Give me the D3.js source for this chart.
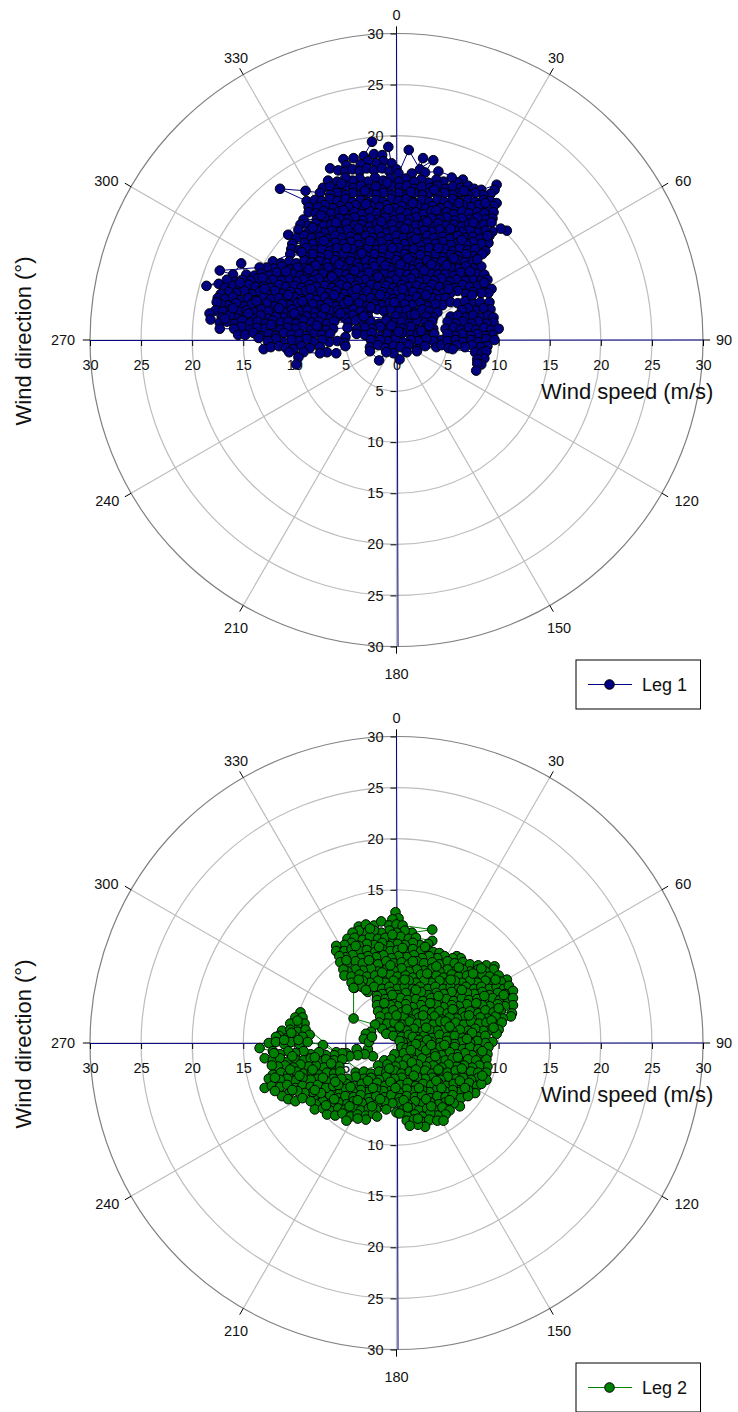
<!DOCTYPE html>
<html>
<head>
	<title>Wind speed and direction by leg</title>
	<script src="https://cdnjs.cloudflare.com/ajax/libs/d3/7.8.5/d3.min.js"></script>
	<style type="text/css">
		body { margin:0; background:#fff; }
		svg { display:block; font-family:"Liberation Sans",Arial,sans-serif; }
		.tick line, .mark { stroke:black; }
		.tick text, .angle { font-size:14.5px; fill:#111; }
		.title { font-size:22px; fill:#111; }
		.legtext { font-size:18px; fill:#111; }
	</style>
</head>
<body>
<script type="text/javascript">
// polar axes
var speedTicks = [-30,-25,-20,-15,-10,-5,0,5,10,15,20,25,30];
var ringValues = [5,10,15,20,25];
var angleValues = [0,30,60,90,120,150,180,210,240,270,300,330];

// the long straight lines through both plots, east/north in m/s
var spokeNS = [[0,30],[0.15,-30]];
var spokeEW = [[-30,-0.05],[30,0]];

// values, as east/north components of the wind speed (m/s)
var leg1Main = [
[-2.4,19.4],[-3.2,18],[-2.2,18.2],[-1.4,18.1],[-0.8,18.9],
[-0.5,17.3],[-1.3,17.5],[-2,17.3],[-2.8,17.5],[-3.5,17.2],[-4.2,17.8],[-5.2,17.7],[-4.9,17.1],
[-6.5,16.8],[-5.7,16.6],[-5,16.5],[-4.3,16.7],[-3.6,16.5],[-2.9,16.8],[-2.2,16.6],[-1.4,16.8],[-0.7,16.5],[0,16.7],[0.2,16.3],[1.2,18.6],[2.3,16.7],[2.6,17.8],[1.5,16.3],[3.6,17.6],[2.8,16.4],[4.1,16.5],
[6.5,15.7],[6,15.4],[5.4,15.9],[4.6,15.5],[3.9,15.7],[3.1,15.4],[2.4,15.7],[1.7,15.5],[0.9,15.8],[0.2,15.5],[-0.6,15.8],[-1.3,15.6],[-2.1,15.9],[-2.8,15.5],[-3.6,15.8],[-4.3,15.6],[-5,15.9],[-5.8,15.5],[-6.7,15.6],
[-7.2,14.9],[-6.5,15],[-5.7,14.8],[-5,15.1],[-4.2,14.9],[-3.5,15.1],[-2.7,14.8],[-2,15],[-1.2,14.8],[-0.5,15.1],[0.3,14.9],[1,15.1],[1.8,14.8],[2.5,15],[3.3,14.9],[4,15.1],[4.8,14.8],[5.5,15],[6.3,14.9],[7,15.1],[7.6,14.8],[8.3,14.7],[9.8,15.2],[9.6,14.7],
[9.2,14.3],[8.5,14.2],[7.7,14.4],[7,14.2],[6.2,14.4],[5.5,14.2],[4.7,14.4],[4,14.2],[3.2,14.4],[2.5,14.2],[1.7,14.4],[1,14.2],[0.2,14.4],[-0.5,14.2],[-1.3,14.4],[-2,14.2],[-2.8,14.4],[-3.5,14.2],[-4.3,14.4],[-5,14.2],[-5.8,14.4],[-6.5,14.2],[-7.5,14.4],[-8.9,14.6],[-11.4,14.8],
[-8.8,13.6],[-8,13.7],[-7.3,13.6],[-6.5,13.8],[-5.8,13.6],[-5,13.8],[-4.3,13.5],[-3.5,13.7],[-2.8,13.5],[-2,13.7],[-1.3,13.5],[-0.5,13.8],[0.2,13.6],[1,13.8],[1.7,13.5],[2.5,13.7],[3.2,13.5],[4,13.7],[4.7,13.5],[5.5,13.8],[6.2,13.6],[7,13.7],[7.7,13.5],[8.5,13.7],[9.2,13.6],[9.8,13.4],
[9.5,13.1],[8.8,13],[8,13.2],[7.3,13],[6.5,13.2],[5.8,13],[5,13.1],[4.3,12.9],[3.5,13.1],[2.8,12.9],[2,13.2],[1.3,13],[0.5,13.1],[-0.2,12.9],[-1,13.2],[-1.7,13],[-2.5,13.1],[-3.2,12.9],[-4,13.2],[-4.7,13],[-5.5,13.1],[-6.2,12.9],[-7,13.2],[-7.7,13],[-8.6,13],
[-8.6,12.5],[-7.9,12.4],[-7.1,12.6],[-6.4,12.4],[-5.6,12.6],[-4.9,12.3],[-4.1,12.5],[-3.4,12.3],[-2.6,12.6],[-1.9,12.4],[-1.1,12.5],[-0.4,12.3],[0.4,12.6],[1.1,12.4],[1.9,12.5],[2.6,12.3],[3.4,12.6],[4.1,12.4],[4.9,12.5],[5.6,12.3],[6.4,12.6],[7.1,12.4],[7.9,12.5],[8.6,12.4],[9.5,12.5],
[9.4,11.9],[8.7,11.8],[7.9,12],[7.2,11.8],[6.4,11.9],[5.7,11.7],[4.9,12],[4.2,11.8],[3.4,11.9],[2.7,11.7],[1.9,12],[1.2,11.8],[0.4,11.9],[-0.3,11.7],[-1.1,12],[-1.8,11.8],[-2.6,11.9],[-3.3,11.7],[-4.1,12],[-4.8,11.8],[-5.6,11.9],[-6.3,11.7],[-7.1,12],[-7.8,11.8],[-9.1,11.8],
[-9.4,11.3],[-8.6,11.2],[-7.9,11.4],[-7.1,11.2],[-6.4,11.3],[-5.6,11.1],[-4.9,11.4],[-4.1,11.2],[-3.4,11.3],[-2.6,11.1],[-1.9,11.4],[-1.1,11.2],[-0.4,11.3],[0.4,11.1],[1.1,11.4],[1.9,11.2],[2.6,11.3],[3.4,11.1],[4.1,11.4],[4.9,11.2],[5.6,11.3],[6.4,11.1],[7.1,11.4],[7.9,11.2],[8.6,11.3],[9.3,11.5],
[10.8,10.7],[10.2,10.9],[9.4,10.6],[8.7,10.7],[7.9,10.5],[7.2,10.8],[6.4,10.6],[5.7,10.7],[4.9,10.5],[4.2,10.8],[3.4,10.6],[2.7,10.7],[1.9,10.5],[1.2,10.8],[0.4,10.6],[-0.3,10.7],[-1.1,10.5],[-1.8,10.8],[-2.6,10.6],[-3.3,10.7],[-4.1,10.5],[-4.8,10.8],[-5.6,10.6],[-6.3,10.7],[-7.1,10.5],[-7.8,10.8],[-8.6,10.6],[-9.6,10.8],
[-10.6,10.3],[-9.8,10],[-9,10.2],[-8.3,10],[-7.5,10.1],[-6.8,9.9],[-6,10.2],[-5.3,10],[-4.5,10.1],[-3.8,9.9],[-3,10.2],[-2.3,10],[-1.5,10.1],[-0.8,9.9],[0,10.2],[0.7,10],[1.5,10.1],[2.2,9.9],[3,10.2],[3.7,10],[4.5,10.1],[5.2,9.9],[6,10.2],[6.7,10],[7.5,10.1],[8.2,9.9],[9.1,10.2],
[9,9.5],[8.3,9.4],[7.5,9.6],[6.8,9.4],[6,9.5],[5.3,9.3],[4.5,9.6],[3.8,9.4],[3,9.5],[2.3,9.3],[1.5,9.6],[0.8,9.4],[0,9.5],[-0.7,9.3],[-1.5,9.6],[-2.2,9.4],[-3,9.5],[-3.7,9.3],[-4.5,9.6],[-5.2,9.4],[-6,9.5],[-6.7,9.3],[-7.5,9.6],[-8.2,9.4],[-9,9.5],[-10.2,9.4],
[-10.3,8.9],[-9.5,8.8],[-8.8,9],[-8,8.8],[-7.3,8.9],[-6.5,8.7],[-5.8,9],[-5,8.8],[-4.3,8.9],[-3.5,8.7],[-2.8,9],[-2,8.8],[-1.3,8.9],[-0.5,8.7],[0.2,9],[1,8.8],[1.7,8.9],[2.5,8.7],[3.2,9],[4,8.8],[4.7,8.9],[5.5,8.7],[6.2,9],[7,8.8],[7.7,8.9],[8.7,8.7],
[8.4,8.4],[7.5,8.2],[6.8,8.4],[6,8.2],[5.3,8.3],[4.5,8.1],[3.8,8.4],[3,8.2],[2.3,8.3],[1.5,8.1],[0.8,8.4],[0,8.2],[-0.7,8.3],[-1.5,8.1],[-2.2,8.4],[-3,8.2],[-3.7,8.3],[-4.5,8.1],[-5.2,8.4],[-6,8.2],[-6.7,8.3],[-7.5,8.1],[-8.2,8.4],[-9,8.2],[-10.4,8.4],
[-12.1,7.7],[-11.3,7.5],[-10.5,7.7],[-9.8,7.5],[-9,7.8],[-8.3,7.6],[-7.5,7.7],[-6.8,7.5],[-6,7.8],[-5.3,7.6],[-4.5,7.7],[-3.8,7.5],[-3,7.8],[-2.3,7.6],[-1.5,7.7],[-0.8,7.5],[0,7.8],[0.7,7.6],[1.5,7.7],[2.2,7.5],[3,7.8],[3.7,7.6],[4.5,7.7],[5.2,7.5],[6,7.8],[6.7,7.6],[7.5,7.7],
[8.3,7.2],[7.5,7],[6.8,7.2],[6,7],[5.3,7.1],[4.5,6.9],[3.8,7.2],[3,7],[2.3,7.1],[1.5,6.9],[0.8,7.2],[0,7],[-0.7,7.1],[-1.5,6.9],[-2.2,7.2],[-3,7],[-3.7,7.1],[-4.5,6.9],[-5.2,7.2],[-6,7],[-6.7,7.1],[-7.5,6.9],[-8.2,7.2],[-9,7],[-9.7,7.1],[-10.5,6.9],[-11.2,7.2],[-12,7],[-12.7,7.1],[-13.4,7.1],
[-17.3,6.8],[-16,6.4],[-15.2,7.5],[-14.7,6.4],[-13.9,6.3],[-13.2,6.5],[-12.4,6.3],[-11.7,6.6],[-10.9,6.4],[-10.2,6.5],[-9.4,6.3],[-8.7,6.6],[-7.9,6.4],[-7.2,6.5],[-6.4,6.3],[-5.7,6.6],[-4.9,6.4],[-4.2,6.5],[-3.4,6.3],[-2.7,6.6],[-1.9,6.4],[-1.2,6.5],[-0.4,6.3],[0.3,6.6],[1.1,6.4],[1.8,6.5],[2.6,6.3],[3.3,6.6],[4.1,6.4],[4.8,6.5],[5.6,6.3],[6.3,6.6],[7.1,6.4],[7.8,6.5],[8.6,6.4],
[8.9,5.9],[8.2,5.8],[7.4,6],[6.7,5.8],[5.9,5.9],[5.2,5.7],[4.4,6],[3.7,5.8],[2.9,5.9],[2.2,5.7],[1.4,6],[0.7,5.8],[-0.1,5.9],[-0.8,5.7],[-1.6,6],[-2.3,5.8],[-3.1,5.9],[-3.8,5.7],[-4.6,6],[-5.3,5.8],[-6.1,5.9],[-6.8,5.7],[-7.6,6],[-8.3,5.8],[-9.1,5.9],[-9.8,5.7],[-10.6,6],[-11.3,5.8],[-12.1,5.9],[-12.8,5.7],[-13.6,6],[-14.3,5.8],[-15.1,5.9],[-15.8,5.7],[-16.6,5.9],
[-18.6,5.3],[-17.4,5.5],[-16.8,5.1],[-16,5.3],[-15.3,5.1],[-14.5,5.4],[-13.8,5.2],[-13,5.3],[-12.3,5.1],[-11.5,5.4],[-10.8,5.2],[-10,5.3],[-9.3,5.1],[-8.5,5.4],[-7.8,5.2],[-7,5.3],[-6.3,5.1],[-5.5,5.4],[-4.8,5.2],[-4,5.3],[-3.3,5.1],[-2.5,5.4],[-1.8,5.2],[-1,5.3],[-0.3,5.1],[0.5,5.4],[1.2,5.2],[2,5.3],[2.7,5.1],[3.5,5.4],[4.2,5.2],[5,5.3],[5.7,5.1],[6.5,5.4],[7.2,5.2],[8,5.3],[8.7,5.1],[9.3,5],
[9,4.6],[8.3,4.6],[7.5,4.7],[6.8,4.5],[6,4.8],[5.3,4.6],[4.6,4.6],[3.8,4.5],[3.1,4.8],[2.3,4.6],[1.6,4.7],[0.8,4.5],[0.1,4.8],[-0.7,4.6],[-1.4,4.7],[-2.2,4.5],[-2.9,4.8],[-3.7,4.6],[-4.4,4.7],[-5.2,4.5],[-5.9,4.8],[-6.7,4.6],[-7.4,4.7],[-8.2,4.5],[-8.9,4.8],[-9.7,4.6],[-10.4,4.7],[-11.2,4.5],[-11.9,4.8],[-12.7,4.6],[-13.4,4.7],[-14.2,4.5],[-14.9,4.8],[-15.7,4.6],[-16.4,4.7],[-17.2,4.5],
[-17.5,4.1],[-16.8,4],[-16,4.2],[-15.3,3.9],[-14.5,4.1],[-13.8,3.9],[-13,4.2],[-12.3,4],[-11.5,4.1],[-10.8,3.9],[-10,4.2],[-9.3,4],[-8.5,4.1],[-7.8,3.9],[-7,4.2],[-6.3,4],[-5.5,4.1],[-4.8,3.9],[-4,4.2],[-3.3,4],[-2.5,4.1],[-1.8,3.9],[-1,4.2],[-0.3,4],[0.5,4.1],[1.2,3.9],[2,4.2],[2.7,4],[3.5,4.1],[4.2,4],[4.8,4.1],
[4.5,3.4],[3.8,3.5],[3,3.3],[2.3,3.6],[1.5,3.4],[0.8,3.5],[0,3.3],[-0.7,3.6],[-1.5,3.4],[-2.2,3.5],[-3,3.3],[-3.7,3.6],[-4.5,3.4],[-5.2,3.5],[-6,3.3],[-6.7,3.6],[-7.5,3.4],[-8.2,3.5],[-9,3.3],[-9.7,3.6],[-10.5,3.4],[-11.2,3.5],[-12,3.3],[-12.7,3.6],[-13.5,3.4],[-14.2,3.5],[-15,3.3],[-15.7,3.6],[-16.5,3.4],[-17.2,3.5],[-17.6,3.7],
[-17.7,2.9],[-17,2.8],[-16.2,3],[-15.5,2.8],[-14.7,2.9],[-14,2.7],[-13.2,3],[-12.5,2.8],[-11.7,2.9],[-11,2.7],[-10.2,3],[-9.5,2.8],[-8.7,2.9],[-8,2.7],[-7.2,3],[-6.5,2.8],[-5.7,2.9],[-5,2.7],[-4.2,3],[-3.5,2.8],[-2.7,2.9],[-1.9,3],[-1.2,2.8],[-0.5,3],[0.3,2.8],[1,2.9],[1.8,2.7],[2.5,3],[3.2,2.8],[4,2.7],
[3.6,2.2],[2.9,2.3],[2.1,2.1],[1.4,2.4],[0.6,2.2],[-0.1,2.3],[-0.9,2.1],[-2.8,2.3],[-3.6,2.1],[-4.3,2.4],[-5.1,2.2],[-5.8,2.3],[-6.6,2.1],[-7.3,2.4],[-8.1,2.2],[-8.8,2.3],[-9.6,2.1],[-10.3,2.4],[-11.1,2.2],[-11.8,2.3],[-12.6,2.1],[-13.3,2.4],[-14.1,2.2],[-14.8,2.3],[-15.6,2.1],[-16.3,2.4],[-17.1,2.2],[-18.3,2.6],
[-18.2,2],[-17.3,1.7],[-16.6,1.8],[-15.8,1.6],[-15.1,1.9],[-14.3,1.7],[-13.6,1.8],[-12.8,1.6],[-12.1,1.9],[-11.3,1.7],[-10.6,1.8],[-9.8,1.6],[-9.1,1.9],[-8.3,1.7],[-7.6,1.8],[-6.8,1.6],[-6.1,1.8],[-4.7,1.7],[-4,1.9],[-3.2,1.6],[-2.5,1.8],[-1.7,1.6],[-1,1.9],[-0.2,1.7],[0.5,1.8],[1.3,1.6],[2,1.9],[2.8,1.7],[3.5,1.8],
[3.6,1.1],[2.9,1.2],[2.1,1],[1.4,1.3],[0.6,1.1],[-0.1,1.2],[-0.9,1],[-1.6,1.3],[-2.4,1.1],[-3.1,1.2],[-3.9,1],[-4.8,1.2],[-6.2,1.1],[-6.9,1],[-7.7,1.2],[-8.4,1],[-9.2,1.3],[-9.9,1.1],[-10.7,1.2],[-11.4,1],[-12.2,1.3],[-12.9,1.1],[-13.7,1.2],[-14.4,1],[-15.2,1.3],[-15.9,1.1],[-17.3,1.1]
];
var leg1SouthWest = [
[-15.5,0.5],[-14.8,0.5],[-14,0.7],[-13.3,0.4],[-12.5,0.6],[-11.8,0.4],[-11,0.7],[-10.3,0.5],[-9.5,0.6],[-8.8,0.4],[-8,0.7],[-7.3,0.5],[-6.5,0.6],
[-5.8,-0.1],[-6.6,-0.2],[-7.3,0],[-8.1,-0.2],[-8.8,0.1],[-9.6,-0.1],[-10.3,0],[-11.1,-0.2],[-11.8,0.1],[-12.6,-0.1],[-13.5,0.2],
[-13,-0.9],[-12.3,-0.7],[-11.5,-0.6],[-10.8,-0.8],[-10.1,-0.9],[-9.3,-0.6],[-8.5,-0.8],[-7.5,-0.7],
[-6.8,-1.2],[-7.5,-1.3],[-9.1,-1.2],[-10.5,-1.2],[-9.6,-1.7],[-9.8,-2.4]
];
var leg1SouthMid = [
[-5,0.3],[-5.1,-0.3],[-5,-0.6],[-5.9,-1.3]
];
var leg1South = [
[-3.9,0.6],[-3.1,0.5],[-2.4,0.7],[-1.6,0.4],[-0.9,0.6],[-0.1,0.4],[0.6,0.7],[1.4,0.5],[2.1,0.6],[2.9,0.4],[3.7,0.6],
[4.4,0],[3.6,-0.1],[2.9,0.1],[2.1,-0.1],[1.4,0],[0.6,-0.2],[-0.1,0.1],[-0.9,-0.1],[-1.6,0],[-2.5,0],
[-2.6,-0.7],[-1.8,-0.5],[-1.1,-0.8],[-0.3,-0.6],[0.4,-0.7],[1.2,-0.5],[2,-0.9],[2.8,-0.6],[3.9,-0.7],[4.4,-0.5],
[2,-1.1],[1,-1.2],[0.3,-1.9],[-0.3,-1.3],[-1,-1.2],[-1.7,-2],[-2.6,-1.1]
];
var leg1East = [
[5.3,3.7],[6,3.6],[6.7,3.8],[7.5,3.6],[8.2,3.7],[9.1,3.7],
[9.2,3],[8.5,3.1],[7.7,2.9],[7,3.1],[6.4,2.9],
[5.3,2.3],[6,2.4],[6.8,2.2],[7.5,2.4],[8.3,2.2],[9,2.4],[9.5,2.2],
[9.5,1.7],[8.8,1.6],[8,1.8],[7.3,1.6],[6.5,1.8],[5.8,1.6],[5,1.8],
[4.8,1.1],[5.6,1.2],[6.3,1],[7.1,1.2],[7.8,1],[8.6,1.2],[9.3,1],[10,1.1],
[9.4,0.5],[8.7,0.4],[7.9,0.6],[7.2,0.4],[6.4,0.6],[5.7,0.4],[5,0.6],
[5,-0.1],[5.8,0],[6.5,-0.2],[7.3,0],[8,-0.2],[8.8,0.1],[9.6,0],
[8.9,-0.6],[8.2,-0.7],[7.4,-0.5],[6.7,-0.7],[5.9,-0.5],[5.1,-0.8],
[5.5,-0.9],[7.7,-1.2],[8.4,-1.2],[8.8,-1.1],[8.6,-1.8],[7.9,-1.9],[8.3,-2.4],[7.9,-2.3],[7.8,-3]
];
// points lying on top of the others in the dense middle of leg 1
var leg1Top = [
[-5.4,15.3],[-3.1,14.6],[-0.9,15.4],[1.4,14.5],[3.7,14.7],[6.6,14.6],[8.7,13.4],[6.1,13.4],[3.9,12.7],[1.6,13.4],[-0.8,12.8],[-3,13.3],[-5.2,12.7],[-7.4,12.2],[-8.2,11],[-5.9,11.5],[-3.7,10.9],[-1.5,11.6],[0.8,10.9],[3,11.6],[5.3,10.9],[7.5,11.5],[8.9,10.2],[6.4,9.8],[4.1,9],[1.9,9.9],[-0.4,9],[-2.6,9.7],[-4.9,9],[-7.1,9.7],[-9.3,8.6],[-7.9,7.3],[-5.6,7.4],[-3.4,8.5],[-1.1,7.3],[1.1,8],[3.4,7.4],[5.6,8],[7.9,7.9],[7.2,6.7],[4.9,7.3],[2.7,6.8],[0.4,7.4],[-1.8,6.2],[-4.1,6.8],[-6.3,6.2],[-8.6,6.9],[-10.8,6.7],[-13.1,6.1],[-15.3,5.6],[-12.9,5],[-10.6,4.4],[-8.4,5],[-6.1,4.4],[-3.9,5],[-1.6,4.4],[0.6,5],[2.9,4.4],[5.1,5],[7.4,4.4],[8.6,5.6],[-0.2,3.7],[-2.5,3.2],[-4.7,3.8],[-7,3.1],[-9.2,3.8],[-11.5,3.1],[-13.7,3.8],[-16,3.1],[-16.8,2.1],[-14.5,2.6],[-12.3,1.5],[-10,2.6],[-7.8,1.4],[-5.5,2.6],[-3.2,2.3],[-0.5,1.4],[1.8,2.5],[3.2,1.4],[2.4,0.9],[0.2,0.8]
];

var leg2Main = [
[-0.1,12.8],[0.2,12.2],[-0.4,12.1],
[-3.7,11.4],[-3,11.6],[-2.2,11.5],[-1.5,11.9],[-0.7,11.5],[0,11.6],[0.6,11.5],[3.5,11.1],
[1.5,10.8],[0.8,11],[0,10.8],[-0.7,11],[-1.5,10.8],[-2.2,11],[-3,10.8],[-3.7,11],[-4.3,10.8],
[-4.8,10.2],[-4.1,10.3],[-3.3,10.1],[-2.6,10.4],[-1.8,10.2],[-1.1,10.3],[-0.3,10.1],[0.4,10.4],[1.2,10.2],[1.9,10.3],[3.5,10],
[3.1,9.7],[2.3,9.6],[1.6,9.8],[0.8,9.6],[0.1,9.7],[-0.7,9.5],[-1.4,9.8],[-2.2,9.6],[-2.9,9.7],[-3.7,9.5],[-4.4,9.8],[-5.1,9.6],[-5.9,9.5],
[-5.9,9],[-5.1,9],[-4.4,9.2],[-3.6,9],[-2.9,9.1],[-2.1,8.9],[-1.4,9.2],[-0.6,9],[0.1,9.1],[0.9,8.9],[1.6,9.2],[2.4,9],[3.1,9.1],[3.6,8.9],
[4.2,8.8],[5.9,8.5],[6.3,8.3],[5.5,8.3],[4.7,8.5],[4,8.3],[3.2,8.5],[2.5,8.3],[1.7,8.6],[1,8.4],[0.2,8.5],[-0.5,8.3],[-1.3,8.6],[-2,8.4],[-2.8,8.5],[-3.5,8.3],[-4.3,8.6],[-5,8.4],[-5.6,8.5],
[-5.5,7.9],[-4.8,7.8],[-4,8],[-3.3,7.8],[-2.5,7.9],[-1.8,7.7],[-1,8],[-0.3,7.8],[0.5,7.9],[1.2,7.7],[2,8],[2.7,7.8],[3.5,7.9],[4.2,7.7],[5,8],[5.7,7.8],[6.5,7.9],[7.2,7.7],[8,7.6],[8.8,7.6],[9.6,7.5],
[9.5,7.2],[8.7,7],[8,7.2],[7.2,7],[6.5,7.2],[5.7,7],[5,7.2],[4.2,7],[3.5,7.3],[2.7,7.1],[2,7.2],[1.2,7],[0.5,7.3],[-0.3,7.1],[-1,7.2],[-1.8,7],[-2.5,7.3],[-3.3,7.1],[-4,7.2],[-4.8,7],[-5.2,7.2],
[-5.1,6.6],[-4.4,6.5],[-3.6,6.7],[-2.9,6.5],[-2.1,6.6],[-1.4,6.4],[-0.6,6.7],[0.1,6.5],[0.9,6.6],[1.6,6.4],[2.4,6.7],[3.1,6.5],[3.9,6.6],[4.6,6.4],[5.4,6.7],[6.1,6.5],[6.9,6.6],[7.6,6.4],[8.4,6.7],[9.1,6.5],[10,6.6],
[10.8,6.2],[10.2,6],[9.4,5.9],[8.7,6.1],[7.9,5.9],[7.2,6.1],[6.4,5.9],[5.7,6.1],[4.9,5.9],[4.2,6.1],[3.4,5.9],[2.7,6.1],[1.9,5.9],[1.2,6.1],[0.4,5.9],[-0.3,6.1],[-1.1,5.9],[-1.8,6.1],[-2.6,5.9],[-3.3,6.1],[-4.4,5.9],
[-4.1,5.4],[-3.4,5.5],[-2.8,5],[-2.2,5.5],[-1.4,5.3],[-0.7,5.5],[0.1,5.3],[0.8,5.5],[1.6,5.3],[2.3,5.5],[3.1,5.3],[3.8,5.5],[4.6,5.3],[5.3,5.5],[6.1,5.3],[6.8,5.5],[7.6,5.3],[8.3,5.5],[9.1,5.3],[9.8,5.5],[10.5,5.3],[11,5.6],
[11.4,5.1],[10.6,4.8],[9.9,4.9],[9.1,4.7],[8.4,5],[7.6,4.8],[6.9,4.9],[6.1,4.7],[5.4,5],[4.6,4.8],[3.9,4.9],[3.1,4.7],[2.4,5],[1.6,4.8],[0.9,4.9],[0.1,4.7],[-0.6,5],[-1.4,4.8],[-1.9,4.6],
[-1.9,4.2],[-1.1,4.3],[-0.4,4.1],[0.4,4.4],[1.1,4.2],[1.9,4.3],[2.6,4.1],[3.4,4.4],[4.1,4.2],[4.9,4.3],[5.6,4.1],[6.4,4.4],[7.1,4.2],[7.9,4.3],[8.6,4.1],[9.4,4.4],[10.1,4.2],[10.9,4.3],[11.4,4.4],
[11.4,3.7],[10.6,3.6],[9.9,3.8],[9.1,3.6],[8.4,3.7],[7.6,3.5],[6.9,3.8],[6.1,3.6],[5.4,3.7],[4.6,3.5],[3.9,3.8],[3.1,3.6],[2.4,3.7],[1.6,3.5],[0.9,3.8],[0.1,3.6],[-0.6,3.7],[-1.4,3.5],[-1.9,3.7],
[-1.8,3.1],[-1,3],[-0.3,3.2],[0.5,3],[1.2,3.1],[2,2.9],[2.7,3.2],[3.5,3],[4.2,3.1],[5,2.9],[5.7,3.2],[6.5,3],[7.2,3.1],[8,2.9],[8.7,3.2],[9.5,3],[10.2,3.1],[11.3,2.9],
[11.2,2.6],[10.4,2.4],[9.7,2.6],[8.9,2.4],[8.2,2.5],[7.4,2.3],[6.7,2.6],[5.9,2.4],[5.2,2.5],[4.4,2.3],[3.7,2.6],[2.9,2.4],[2.2,2.5],[1.4,2.3],[0.7,2.6],[-0.1,2.4],[-0.8,2.5],[-1.6,2.6],
[-1.7,2],[-0.9,1.9],[-0.2,2],[0.6,1.8],[1.3,2.1],[2.1,1.9],[2.8,2],[3.6,1.8],[4.3,2.1],[5.1,1.9],[5.8,2],[6.6,1.8],[7.3,2.1],[8.1,1.9],[8.8,2],[9.6,1.8],[10.3,2],
[10,1.3],[9.2,1.3],[8.5,1.2],[7.7,1.4],[7,1.2],[6.2,1.3],[5.5,1.1],[4.7,1.4],[4,1.2],[3.2,1.3],[2.5,1.1],[1.7,1.4],[1,1.2],[0.2,1.3],[-0.5,1.1],[-1.4,1.4],
[-1,0.9],[-0.3,0.7],[0.5,0.6],[1.2,0.8],[2,0.6],[2.7,0.7],[3.5,0.5],[4.2,0.8],[5,0.6],[5.7,0.7],[6.5,0.5],[7.2,0.8],[8,0.6],[8.7,0.7],[9.8,0.9],
[9.4,0.1],[8.7,0],[7.9,0.2],[7.2,0],[6.4,0.1],[5.7,-0.1],[4.9,0.2],[4.2,0],[3.4,0.1],[2.8,-0.1],[2.4,0.1],[2,-0.1],[1.6,0.2],[1.1,0],[0.6,0.1],[0.3,0.2],
[0.5,-0.4],[1,-0.5],[1.5,-0.3],[1.9,-0.6],[2.3,-0.4],[2.7,-0.6],[3.1,-0.3],[3.6,-0.5],[4.3,-0.4],[5,-0.6],[5.7,-0.4],[6.5,-0.6],[7.2,-0.4],[8,-0.6],[9,-0.4],
[8.9,-1.1],[8.2,-1],[7.4,-1.2],[6.7,-1],[5.9,-1.1],[5.2,-0.9],[4.4,-1.2],[3.7,-1],[2.9,-1.1],[2.2,-0.9],[1.4,-1.2],[0.7,-1],[-0.2,-1.1],
[-1.2,-1.7],[-0.5,-1.6],[0.3,-1.8],[1,-1.6],[1.8,-1.7],[2.5,-1.5],[3.3,-1.8],[4,-1.6],[4.8,-1.7],[5.5,-1.5],[6.3,-1.8],[7,-1.6],[7.8,-1.7],[8.8,-1.6],
[8.9,-2.3],[8.1,-2.2],[7.4,-2.4],[6.6,-2.2],[5.9,-2.3],[5.1,-2.1],[4.4,-2.4],[3.6,-2.2],[2.9,-2.3],[2.1,-2.1],[1.4,-2.4],[0.6,-2.2],[-0.1,-2.3],[-0.9,-2.1],[-1.8,-2.2],
[-4,-2.9],[-3.2,-2.8],[-2.5,-3],[-1.7,-2.8],[-1,-2.9],[-0.2,-2.7],[0.5,-3],[1.3,-2.8],[2,-2.9],[2.8,-2.7],[3.5,-3],[4.3,-2.8],[5,-2.9],[5.8,-2.7],[6.5,-3],[7.3,-2.8],[8,-2.9],[8.8,-2.9],
[8.8,-3.6],[8,-3.4],[7.3,-3.6],[6.5,-3.4],[5.8,-3.5],[5,-3.3],[4.3,-3.6],[3.5,-3.4],[2.8,-3.5],[2,-3.3],[1.3,-3.6],[0.5,-3.4],[-0.2,-3.5],[-1,-3.3],[-1.7,-3.6],[-2.5,-3.4],[-3.2,-3.5],[-4,-3.3],[-4.8,-3.5],
[-5.6,-4.1],[-4.9,-4],[-4.1,-4.2],[-3.4,-4],[-2.6,-4.1],[-1.9,-3.9],[-1.1,-4.2],[-0.4,-4],[0.4,-4.1],[1.1,-3.9],[1.9,-4.2],[2.6,-4],[3.4,-4.1],[4.1,-3.9],[4.9,-4.2],[5.6,-4],[6.4,-4.1],[7.1,-3.9],[7.9,-4.2],[8.3,-4],
[7.7,-4.9],[7,-4.6],[6.2,-4.8],[5.5,-4.6],[4.7,-4.7],[4,-4.5],[3.2,-4.8],[2.5,-4.6],[1.7,-4.7],[1,-4.5],[0.2,-4.8],[-0.5,-4.6],[-1.3,-4.7],[-2,-4.5],[-2.8,-4.8],[-3.5,-4.6],[-4.3,-4.7],[-5,-4.5],[-5.8,-4.8],[-6.4,-4.6],
[-8,-5.2],[-7.2,-5.3],[-6.5,-5.1],[-5.7,-5.4],[-5,-5.2],[-4.2,-5.3],[-3.5,-5.1],[-2.7,-5.4],[-2,-5.2],[-1.2,-5.3],[-0.5,-5.1],[0.3,-5.4],[1,-5.2],[1.8,-5.3],[2.5,-5.1],[3.3,-5.4],[4,-5.2],[4.8,-5.3],[5.5,-5.1],[6.3,-5.4],[7,-5.2],
[6.2,-6.2],[5.6,-5.9],[4.8,-5.8],[4.1,-6],[3.3,-5.8],[2.6,-5.9],[1.8,-5.7],[1.1,-6],[0.3,-5.8],[-0.4,-5.9],[-1.2,-5.7],[-1.9,-6],[-2.7,-5.8],[-3.4,-5.9],[-4.2,-5.7],[-4.9,-6],[-5.7,-5.8],[-6.4,-5.9],[-7.2,-5.7],[-7.9,-6],
[-8,-6.5],[-7.2,-6.4],[-6.5,-6.6],[-5.7,-6.4],[-5,-6.5],[-4.2,-6.3],[-3.5,-6.6],[-2.7,-6.4],[-2,-6.5],[-1,-6.5],[0,-6.8],[0.7,-6.5],[1.5,-6.4],[2.2,-6.6],[3,-6.4],[3.7,-6.5],[4.5,-6.3],[5.2,-6.6],
[4.8,-7],[4,-7.1],[3.3,-6.9],[2.5,-7.2],[1.8,-7],[1,-7.1],[0.3,-6.9],
[1,-7.6],[1.7,-7.5],[2.5,-7.7],[3.2,-7.5],[4,-7.6],[4.6,-7.6],
[2.8,-8.2],[2.1,-8],[1.3,-8.1]
];
var leg2West = [
[-9.4,3],[-9.9,2.5],[-9.2,2.5],[-9,1.9],[-9.7,1.8],[-10.4,1.9],
[-11.2,1.2],[-10.4,1.3],[-9.7,1.1],[-8.9,1.3],
[-8.5,0.8],[-9.2,0.6],[-10,0.7],[-10.7,0.5],[-11.5,0.7],[-11.8,0.6],
[-12.5,0],[-11.8,0.1],[-11,-0.1],[-10.3,0.1],[-9.5,-0.1],[-8.7,0.1],[-7.2,-0.2],
[-5.9,-0.9],[-4.9,-1],[-3.9,-0.6],[-2.8,-0.6],[-2.3,-1.3],[-3.1,-1.1],[-3.8,-1.2],[-4.6,-1.3],[-5.3,-1],[-6.1,-1.2],[-6.9,-1.2],[-7.6,-0.9],[-8.4,-1.1],[-9.1,-0.8],[-9.9,-1],[-10.6,-0.8],[-11.4,-1.1],[-12.1,-0.8],[-13.4,-0.5],
[-12.9,-1.5],[-12.1,-1.7],[-11.4,-1.5],[-10.6,-1.8],[-9.9,-1.6],[-9.1,-1.7],[-8.4,-1.5],[-7.6,-1.8],[-6.9,-1.6],[-6.1,-1.7],[-5.3,-1.6],
[-5.6,-2.3],[-6.4,-2.2],[-7.1,-2.4],[-7.9,-2.2],[-8.6,-2.3],[-9.4,-2.1],[-10.1,-2.4],[-10.9,-2.2],[-11.6,-2.3],[-12.2,-2.2],
[-12.1,-3.1],[-11.3,-2.9],[-10.6,-3.1],[-9.8,-2.8],[-9.1,-3],[-8.3,-2.8],[-7.6,-3.1],[-6.8,-2.9],[-6.1,-3],[-5.5,-2.8],
[-5.4,-3.5],[-6.2,-3.5],[-6.9,-3.7],[-7.7,-3.5],[-8.4,-3.6],[-9.2,-3.4],[-9.9,-3.7],[-10.7,-3.5],[-11.4,-3.6],[-12.5,-3.5],
[-12.9,-4.4],[-12.2,-4.2],[-11.4,-4.3],[-10.7,-4.1],[-9.9,-4.4],[-9.2,-4.2],[-8.4,-4.3],[-7.7,-4.1],[-6.9,-4.4],[-6.2,-4.2],[-5.7,-4.1],
[-7.4,-4.9],[-8.2,-4.8],[-9,-4.9],[-9.7,-4.7],[-10.5,-4.9],[-11.2,-5.2],
[-10.6,-5.5],[-9.9,-5.7],[-9.2,-5.4],[-8.4,-5.7]
];
var leg2Foot = [
[-6.8,-7],[-6,-7.1],[-5.3,-6.9],[-4.5,-7.2],[-3.8,-7],[-3,-7.1],[-2.3,-6.9],[-1.9,-7.2],[-3,-7.5],[-3.8,-7.4],[-4.9,-7.6]
];
// stray points left of the centre with their thin connecting lines
var leg2Stray = [
[-4.2,5.4],[-4.2,2.4],[-2.1,1.8],[-2.5,1.1],[-3,0.9],[-3.2,0.4],[-2.7,0.1],[-2.4,0.6]
];
// points lying on top of the others in the dense middle of leg 2
var leg2Top = [
[-2.6,11.2],[-0.4,10.6],[-4,9.5],[-1.7,9.4],[0.6,9.3],[2.8,9.4],[-4.9,8.1],[-2.7,8.1],[-0.6,7.6],[1.6,8],[3.9,7.5],[6.1,7.4],[8.3,7.3],[-3.7,6.2],[-1.4,6.9],[0.8,6.2],[3,6.8],[5.3,6.2],[7.5,6.8],[9.7,6.2],[-3,5.2],[-0.4,4.7],[1.9,5.2],[4.1,4.6],[6.4,5.2],[8.6,4.6],[10.5,4.7],[-1.2,3.9],[1,3.3],[3.3,3.9],[5.5,3.3],[7.8,3.9],[10,3.4],[0,2.7],[2.6,2.7],[4.8,2.1],[7.1,2.7],[9.3,2.2],[0.3,1.6],[2.9,1.5],[5.2,1.6],[7.4,1],[9.5,1.5],[1.6,0.6],[2.2,0.3],[2.6,0],[3,0.3],[2.4,-0.3],[1.9,-0.1],[1.4,-0.7],[2.9,-0.7],[3.4,-0.2],[4.7,-0.2],[6.9,0.4],[8.4,-0.8],[6,-1.4],[3.8,-1.3],[1.5,-1.9],[-0.7,-2.5],[1.9,-2.6],[4.1,-2.6],[6.4,-2.5],[8.4,-3.2],[6.2,-3.7],[3.9,-3.7],[1.7,-3.2],[-0.6,-3.8],[-2.8,-3.7],[-4.5,-4.3],[-2.3,-4.4],[-0.1,-4.4],[2.2,-4.4],[4.4,-4.4],[6.7,-4.4],[5.2,-5.6],[2.9,-5.5],[0.7,-5.6],[-1.6,-5.5],[-3.8,-5.6],[-6.1,-5.5],[-6.9,-6.1],[-4.6,-6.2],[-2.4,-6.2],[1.1,-6.3],[3.4,-6.2],[2.1,-7.4],
[-9.7,2.2],[-10.3,1],[-11,0.3],[-9.6,0.3],[-12,-1],[-10.2,-1.3],[-8,-1.4],[-6.4,-2],[-8.2,-2.6],[-10.4,-2.6],[-11.9,-3.4],[-9.5,-3.2],[-7.2,-3.4],[-6,-3.8],[-8,-4.6],[-10.2,-4.6],[-11.9,-4.7]
];

var leg1Series = [leg1Main, leg1SouthWest, leg1SouthMid, leg1South, leg1East, leg1Top];
var leg2Series = [leg2Main, leg2West, leg2Foot, leg2Stray, leg2Top];

// how far each angle label sits from the centre, horizontally and vertically (px)
var angleLabelRx = [0,319,331,327.5,335,325,0,321,334,333.5,335,321];
var angleLabelRy = [325,325.6,318,0,322,332.6,334,332.6,322,0,318,325.6];

var svgWidth = 738, svgHeight = 1412;
var centerX = 396.5, radius = 306.5;

var svg = d3.select("body").append("svg")
	.attr("width", svgWidth)
	.attr("height", svgHeight);

function panel(centerY, series, color, name) {
	var g = svg.append("g");

	var x = d3.scaleLinear().domain([-30,30]).range([centerX - radius, centerX + radius]);
	var y = d3.scaleLinear().domain([-30,30]).range([centerY + radius, centerY - radius]);
	var r = d3.scaleLinear().domain([0,30]).range([0, radius]);
	var angle = d3.scaleLinear().domain([0,360]).range([0, 2 * Math.PI]);

	function px(deg, val) { return centerX + r(val) * Math.sin(angle(deg)); }
	function py(deg, val) { return centerY - r(val) * Math.cos(angle(deg)); }

	g.selectAll("circle.ring")
		.data(ringValues)
		.enter()
		.append("circle")
			.attr("class", "ring")
			.attr("cx", centerX).attr("cy", centerY)
			.attr("r", function(d) { return r(d); })
			.attr("fill", "none").attr("stroke", "#bdbdbd").attr("stroke-width", 1.2);

	g.selectAll("line.radial")
		.data(angleValues)
		.enter()
		.append("line")
			.attr("class", "radial")
			.attr("x1", centerX).attr("y1", centerY)
			.attr("x2", function(d) { return px(d, 30); })
			.attr("y2", function(d) { return py(d, 30); })
			.attr("stroke", "#bdbdbd").attr("stroke-width", 1.2);

	g.append("circle")
		.attr("cx", centerX).attr("cy", centerY).attr("r", radius)
		.attr("fill", "none").attr("stroke", "#808080").attr("stroke-width", 1.2);

	// outer ticks and labels of the angular axis
	g.selectAll("line.mark")
		.data(angleValues)
		.enter()
		.append("line")
			.attr("class", "mark")
			.attr("x1", function(d) { return px(d, 30); })
			.attr("y1", function(d) { return py(d, 30); })
			.attr("x2", function(d) { return px(d, 30.7); })
			.attr("y2", function(d) { return py(d, 30.7); });

	g.selectAll("text.angle")
		.data(angleValues)
		.enter()
		.append("text")
			.attr("class", "angle")
			.attr("text-anchor", "middle")
			.attr("x", function(d, i) { return centerX + angleLabelRx[i] * Math.sin(angle(d)); })
			.attr("y", function(d, i) { return centerY - angleLabelRy[i] * Math.cos(angle(d)) + 5; })
			.text(function(d) { return d; });

	var abs = function(d) { return Math.abs(d); };

	var xAxis = d3.axisBottom(x).tickValues(speedTicks).tickSize(6).tickPadding(14).tickFormat(abs);
	var yAxis = d3.axisLeft(y).tickValues(speedTicks.filter(function(d) { return d !== 0; })).tickSize(6).tickPadding(7).tickFormat(abs);

	var ax = g.append("g").attr("transform", "translate(0," + centerY + ")").call(xAxis);
	var ay = g.append("g").attr("transform", "translate(" + centerX + ",0)").call(yAxis);
	ax.select(".domain").remove();
	ay.select(".domain").remove();
	ax.attr("font-size", null).attr("font-family", null);
	ay.attr("font-size", null).attr("font-family", null);

	var line = d3.line()
		.x(function(d) { return x(d[0]); })
		.y(function(d) { return y(d[1]); });

	g.append("path").attr("d", line(spokeNS)).attr("fill", "none").attr("stroke", "#000080");
	g.append("path").attr("d", line(spokeEW)).attr("fill", "none").attr("stroke", "#000080");

	g.selectAll("path.series")
		.data(series)
		.enter()
		.append("path")
			.attr("class", "series")
			.attr("d", function(d) { return line(d); })
			.attr("fill", "none")
			.attr("stroke", color);

	g.selectAll("circle.point")
		.data(d3.merge(series))
		.enter()
		.append("circle")
			.attr("class", "point")
			.attr("cx", function(d) { return x(d[0]); })
			.attr("cy", function(d) { return y(d[1]); })
			.attr("r", 4.8)
			.attr("fill", color)
			.attr("stroke", "black");

	g.append("text")
		.attr("class", "title")
		.attr("x", 541)
		.attr("y", centerY + 59)
		.text("Wind speed (m/s)");

	g.append("text")
		.attr("class", "title")
		.attr("text-anchor", "middle")
		.attr("transform", "translate(31," + (centerY + 1) + ") rotate(-90)")
		.text("Wind direction (\u00B0)");

	// legend
	var leg = g.append("g").attr("transform", "translate(0," + (centerY + 320) + ")");
	leg.append("rect")
		.attr("x", 576).attr("y", 0).attr("width", 124.5).attr("height", 49)
		.attr("fill", "white").attr("stroke", "black");
	leg.append("line")
		.attr("x1", 588).attr("x2", 632).attr("y1", 24.5).attr("y2", 24.5)
		.attr("stroke", color);
	leg.append("circle")
		.attr("cx", 609.5).attr("cy", 24.5).attr("r", 4.8)
		.attr("fill", color).attr("stroke", "black");
	leg.append("text")
		.attr("class", "legtext")
		.attr("x", 642).attr("y", 31)
		.text(name);
}

panel(340, leg1Series, "#000080", "Leg 1");
panel(1043, leg2Series, "#008000", "Leg 2");
</script>
</body>
</html>
